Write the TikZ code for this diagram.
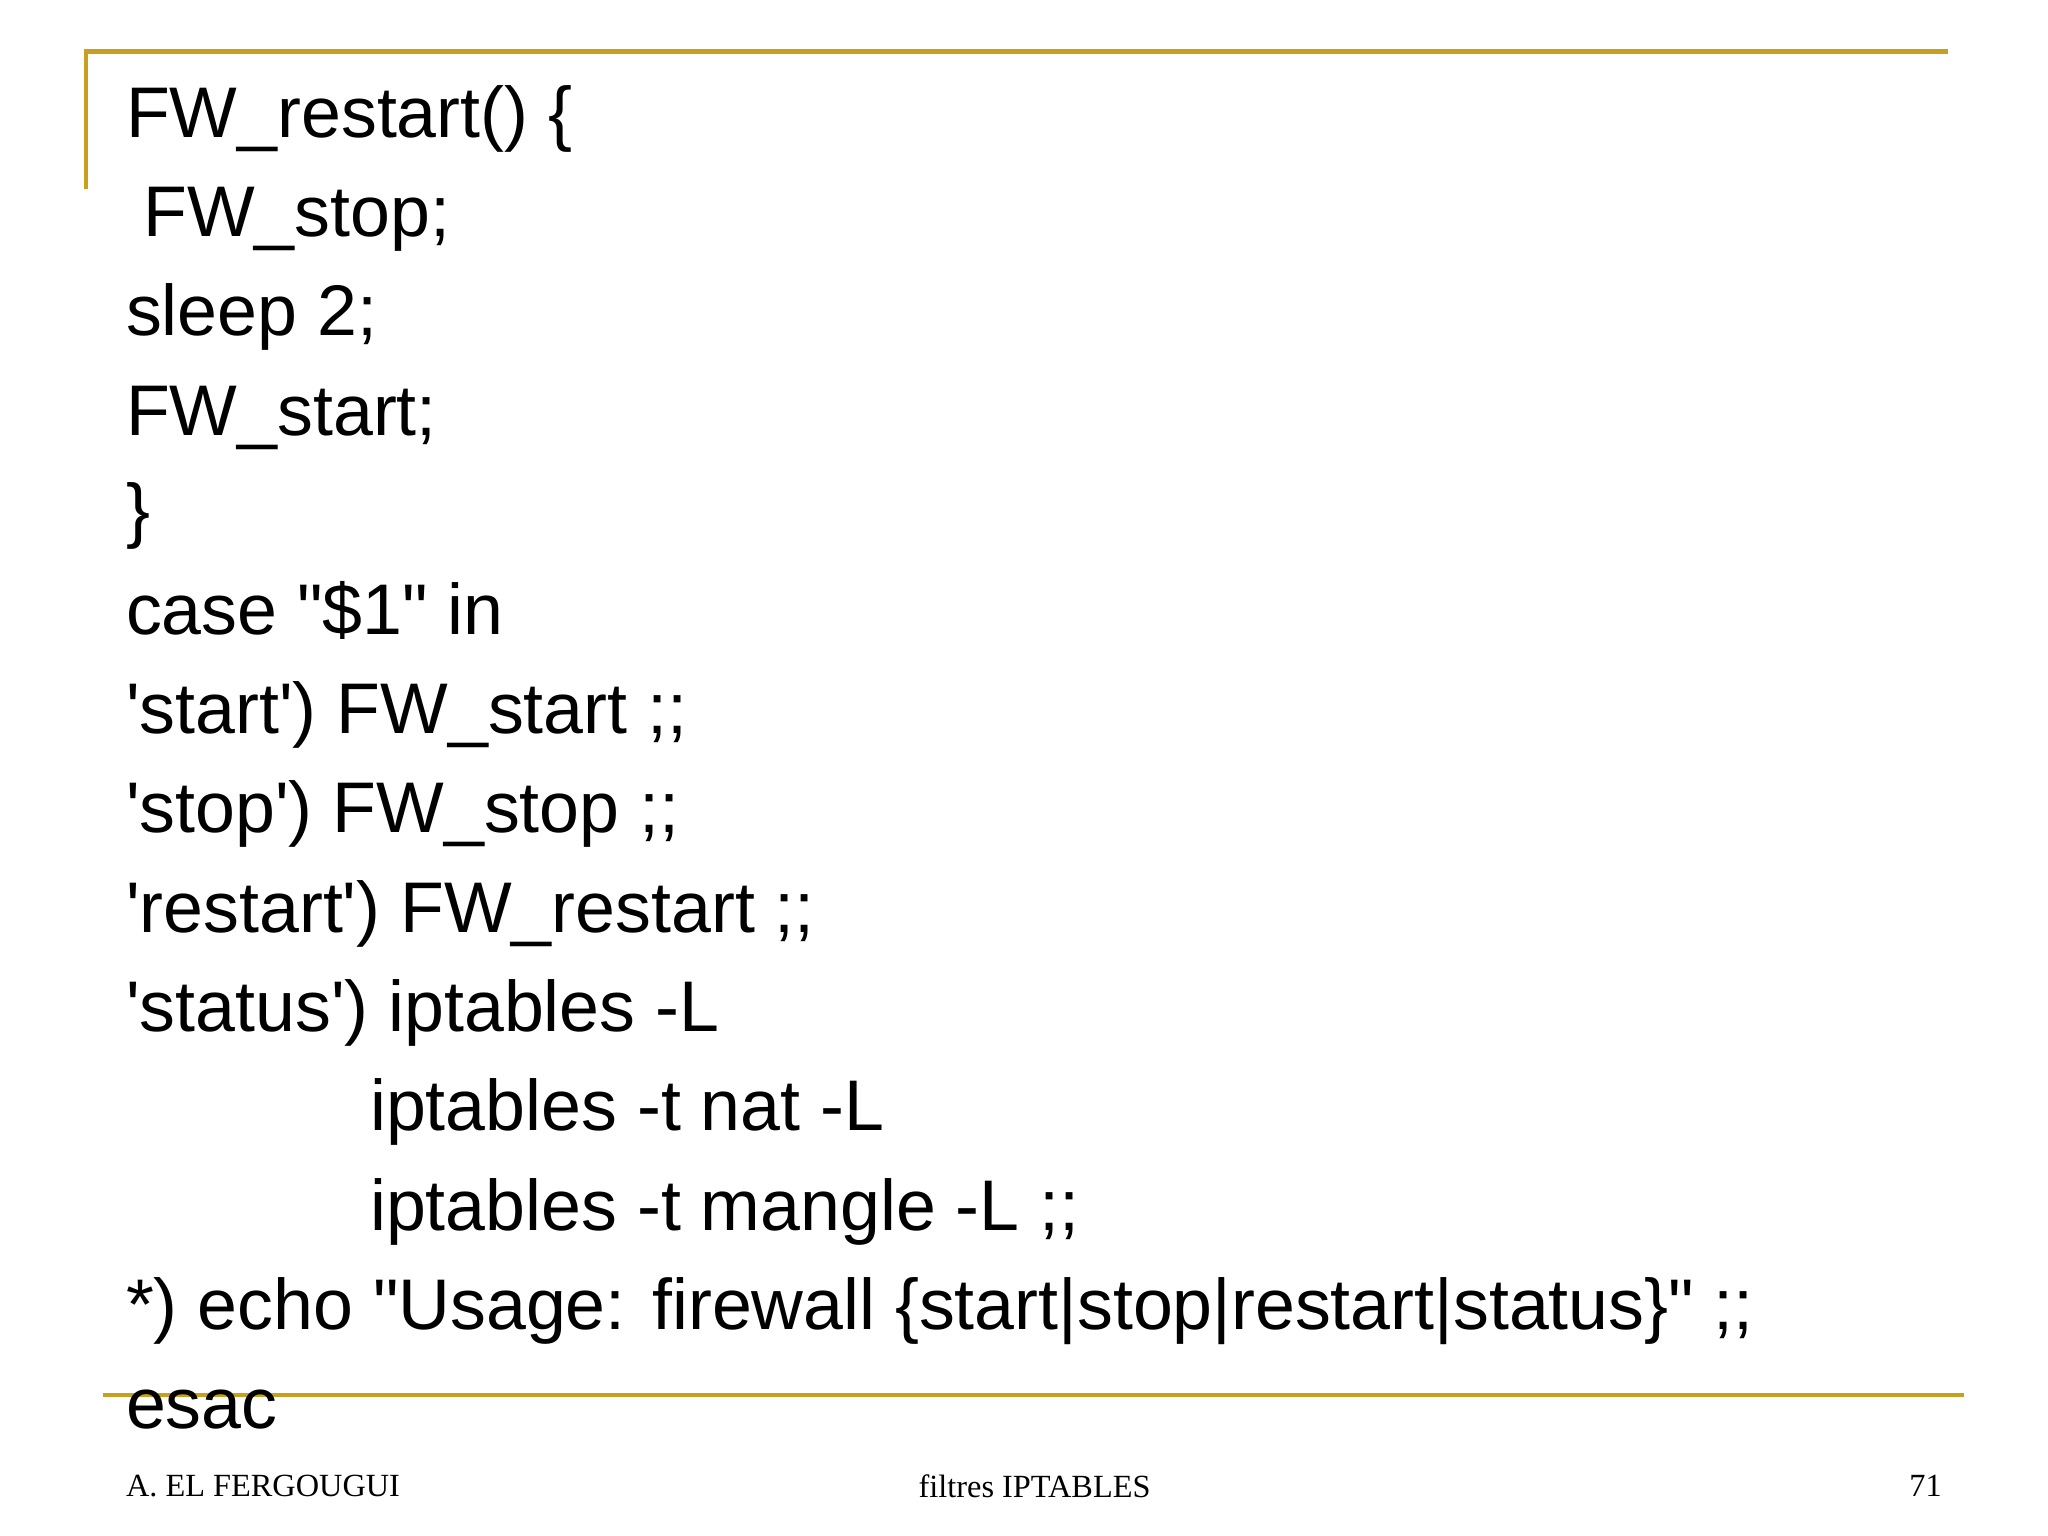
\documentclass[tikz,border=0pt]{standalone}
\usepackage{fontspec}
\newfontfamily\codefont{Liberation Sans}
\newfontfamily\footfont{Liberation Serif}
\definecolor{gold}{RGB}{200,160,30}
\begin{document}
\begin{tikzpicture}[x=0.13196mm,y=-0.13196mm,
  codeline/.style={anchor=base west,inner sep=0pt,font=\codefont\fontsize{20.4}{24}\selectfont},
  foot/.style={anchor=base,inner sep=0pt,font=\footfont\fontsize{9.2}{11}\selectfont},
  rule/.style={draw=gold,line width=1.2pt}]
\useasboundingbox[fill=white] (0,0) rectangle (1552,1164);
\coordinate (tl) at (65,39); \coordinate (tr) at (1476,39); \coordinate (tb) at (65,143);
\coordinate (bl) at (78,1057); \coordinate (br) at (1488,1057);
\draw[rule] (tb) -- (tl) -- (tr);
\draw[rule] (bl) -- (br);
\node[codeline] (l1) at (95,104) {FW\_restart() \{};
\node[codeline] (l2) at (108,179.3) {FW\_stop;};
\node[codeline] (l3) at (95,254.6) {sleep 2;};
\node[codeline] (l4) at (95,329.9) {FW\_start;};
\node[codeline] (l5) at (95,405.2) {\}};
\node[codeline] (l6) at (95,480.5) {case "\$1" in};
\node[codeline] (l7) at (95,555.8) {'start') FW\_start ;;};
\node[codeline] (l8) at (95,631.1) {'stop') FW\_stop ;;};
\node[codeline] (l9) at (95,706.4) {'restart') FW\_restart ;;};
\node[codeline] (l10) at (95,781.7) {'status') iptables -L};
\node[codeline] (l11) at (280,857) {iptables -t nat -L};
\node[codeline] (l12) at (280,932.3) {iptables -t mangle -L ;;};
\node[codeline] (l13) at (95,1007.6) {*) echo "Usage: firewall \{start|stop|restart|status\}" ;;};
\node[codeline] (l14) at (95,1082.9) {esac};
\node[foot,anchor=base west] (f1) at (95,1134) {A. EL FERGOUGUI};
\node[foot] (f2) at (784,1135) {filtres IPTABLES};
\node[foot,anchor=base east] (f3) at (1472,1134) {71};
\end{tikzpicture}
\end{document}
